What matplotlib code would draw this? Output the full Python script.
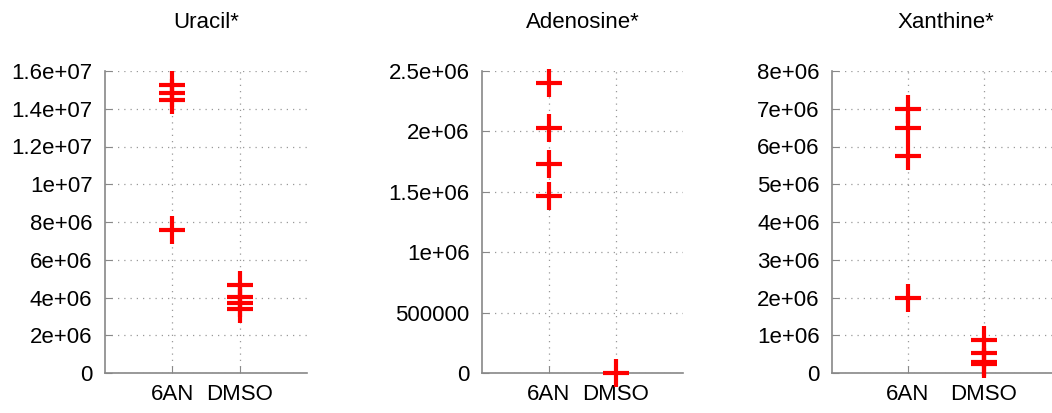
import numpy as np
import matplotlib.pyplot as plt
from matplotlib.path import Path

plt.rcParams['font.family'] = ['Liberation Sans', 'DejaVu Sans']

groups = ['6AN', 'DMSO']

uracil_6an = [1.526e7, 1.483e7, 1.446e7, 7.55e6]
uracil_dmso = [4.65e6, 4.01e6, 3.70e6, 3.38e6]

adenosine_6an = [2.403e6, 2.030e6, 1.727e6, 1.467e6]
adenosine_dmso = [0.0]

xanthine_6an = [7.0e6, 6.49e6, 5.76e6, 1.99e6]
xanthine_dmso = [0.87e6, 0.52e6, 0.30e6, 0.25e6]

titles = ['Uracil*', 'Adenosine*', 'Xanthine*']
ylims = [1.6e7, 2.5e6, 8e6]
ysteps = [2e6, 5e5, 1e6]
ylabels = [
    ['0', '2e+06', '4e+06', '6e+06', '8e+06', '1e+07', '1.2e+07', '1.4e+07', '1.6e+07'],
    ['0', '500000', '1e+06', '1.5e+06', '2e+06', '2.5e+06'],
    ['0', '1e+06', '2e+06', '3e+06', '4e+06', '5e+06', '6e+06', '7e+06', '8e+06'],
]
data = [(uracil_6an, uracil_dmso), (adenosine_6an, adenosine_dmso), (xanthine_6an, xanthine_dmso)]

# gnuplot style cross, slightly narrower than tall
cross = Path([(-0.97, 0), (0.97, 0), (0, -1), (0, 1)],
             [Path.MOVETO, Path.LINETO, Path.MOVETO, Path.LINETO])

W, H = 1052, 413
fig = plt.figure(figsize=(W / 100, H / 100), dpi=100)
boxes = [(105, 202), (482, 201), (832, 228)]

for i, (left, width) in enumerate(boxes):
    ax = fig.add_axes([left / W, 40 / H, width / W, 302 / H])
    a, b = data[i]
    ax.plot([1] * len(a), a, linestyle='none', marker=cross, ms=20, mew=3,
            color='red', clip_on=False, zorder=5)
    ax.plot([2] * len(b), b, linestyle='none', marker=cross, ms=20, mew=3,
            color='red', clip_on=False, zorder=5)
    ax.set_xlim(0, 3)
    ax.set_ylim(0, ylims[i])
    ax.set_xticks([1, 2])
    ax.set_xticklabels(groups)
    ax.set_yticks(np.arange(len(ylabels[i])) * ysteps[i])
    ax.set_yticklabels(ylabels[i])
    ax.tick_params(direction='in', length=5, color='#888888', labelsize=16, pad=9)
    ax.tick_params(axis='x', pad=8)
    for s in ['top', 'right']:
        ax.spines[s].set_visible(False)
    for s in ['left', 'bottom']:
        ax.spines[s].set_color('#888888')
        ax.spines[s].set_linewidth(1.2)
    ax.grid(True, linestyle=(0, (1, 4)), color='#999999', linewidth=0.9)
    ax.set_title(titles[i], fontsize=16, pad=31)

fig.savefig('out.png', dpi=100)
